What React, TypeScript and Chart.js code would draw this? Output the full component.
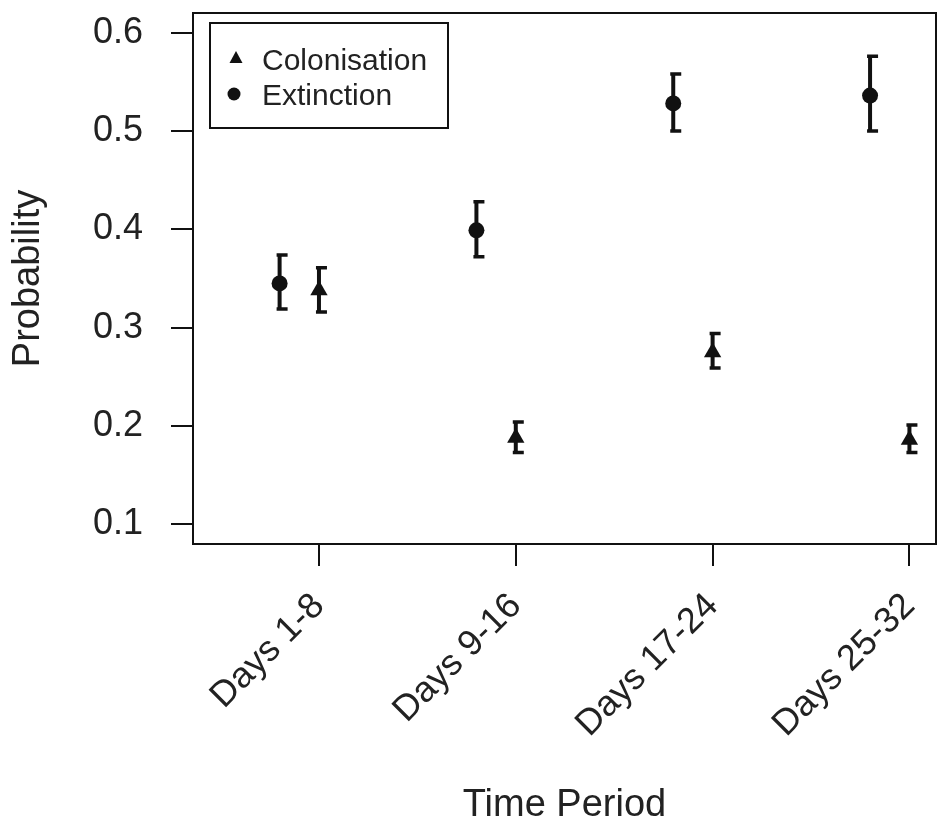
import React, { useEffect, useRef } from 'react';
import { Chart, registerables } from 'chart.js';

Chart.register(...registerables);

const categories = ['Days 1-8', 'Days 9-16', 'Days 17-24', 'Days 25-32'];
const colonisationMean = [0.338, 0.188, 0.275, 0.186];
const colonisationLower = [0.316, 0.173, 0.259, 0.173];
const colonisationUpper = [0.361, 0.204, 0.294, 0.201];
const extinctionMean = [0.345, 0.399, 0.528, 0.536];
const extinctionLower = [0.319, 0.372, 0.5, 0.5];
const extinctionUpper = [0.374, 0.428, 0.558, 0.576];
const yTicks = [0.1, 0.2, 0.3, 0.4, 0.5, 0.6];
const seriesNames = ['Colonisation', 'Extinction'];

const FONT = "'Liberation Sans', Arial, sans-serif";
const INK = '#111';

const errorBars = {
  id: 'errorBars',
  beforeDatasetsDraw(chart: any) {
    const { ctx } = chart;
    const y = chart.scales.y;
    chart.data.datasets.forEach((ds: any, di: number) => {
      const meta = chart.getDatasetMeta(di);
      meta.data.forEach((pt: any, i: number) => {
        const x = pt.x;
        const yl = y.getPixelForValue(ds.errLow[i]);
        const yh = y.getPixelForValue(ds.errHigh[i]);
        ctx.save();
        ctx.strokeStyle = INK;
        ctx.lineWidth = 4;
        ctx.beginPath();
        ctx.moveTo(x, yl);
        ctx.lineTo(x, yh);
        ctx.stroke();
        ctx.lineWidth = 3.5;
        ctx.beginPath();
        ctx.moveTo(x - 3, yl);
        ctx.lineTo(x + 8, yl);
        ctx.moveTo(x - 3, yh);
        ctx.lineTo(x + 8, yh);
        ctx.stroke();
        ctx.restore();
      });
    });
  },
};

const boxAndLegend = {
  id: 'boxAndLegend',
  afterDraw(chart: any) {
    const { ctx, chartArea: a } = chart;
    ctx.save();
    ctx.strokeStyle = INK;
    ctx.lineWidth = 2;
    ctx.strokeRect(a.left, a.top, a.right - a.left, a.bottom - a.top);

    // legend box
    const lx = a.left + 17;
    const ly = a.top + 10;
    ctx.strokeRect(lx, ly, 238, 105);
    ctx.fillStyle = INK;
    const tx = lx + 26;
    const ty = ly + 35;
    ctx.beginPath();
    ctx.moveTo(tx, ty - 7);
    ctx.lineTo(tx + 6.5, ty + 5);
    ctx.lineTo(tx - 6.5, ty + 5);
    ctx.closePath();
    ctx.fill();
    ctx.beginPath();
    ctx.arc(tx - 2, ly + 71, 6.5, 0, Math.PI * 2);
    ctx.fill();
    ctx.font = `30px ${FONT}`;
    ctx.textBaseline = 'alphabetic';
    ctx.textAlign = 'left';
    ctx.fillStyle = '#222';
    ctx.fillText(seriesNames[0], lx + 52, ly + 47);
    ctx.fillText(seriesNames[1], lx + 52, ly + 82);
    ctx.restore();
  },
};

const zeroPad = (s: any) => {
  s.paddingLeft = 0;
  s.paddingRight = 0;
  s.paddingTop = 0;
  s.paddingBottom = 0;
};

export default function App() {
  const ref = useRef<HTMLCanvasElement>(null);
  useEffect(() => {
    if (!ref.current) return;
    const extOffset = -0.2;
    const chart = new Chart(ref.current, {
      type: 'scatter',
      data: {
        datasets: [
          {
            label: seriesNames[0],
            data: categories.map((_, i) => ({ x: i + 1, y: colonisationMean[i] })),
            pointStyle: 'triangle',
            pointRadius: 10,
            backgroundColor: INK,
            borderColor: INK,
            borderWidth: 0,
            errLow: colonisationLower,
            errHigh: colonisationUpper,
          } as any,
          {
            label: seriesNames[1],
            data: categories.map((_, i) => ({ x: i + 1 + extOffset, y: extinctionMean[i] })),
            pointStyle: 'circle',
            pointRadius: 8,
            backgroundColor: INK,
            borderColor: INK,
            borderWidth: 0,
            errLow: extinctionLower,
            errHigh: extinctionUpper,
          } as any,
        ],
      },
      options: {
        animation: false,
        responsive: false,
        events: [],
        layout: { padding: { top: 13, right: 6, left: 0, bottom: 0 } },
        plugins: { legend: { display: false }, tooltip: { enabled: false } },
        scales: {
          x: {
            type: 'linear',
            min: 0.36,
            max: 4.135,
            afterBuildTicks: (ax: any) => {
              ax.ticks = categories.map((_, i) => ({ value: i + 1 }));
            },
            afterFit: (s: any) => {
              s.height = 284;
              zeroPad(s);
            },
            ticks: {
              autoSkip: false,
              minRotation: 45,
              maxRotation: 45,
              padding: 19,
              color: '#222',
              font: { family: FONT, size: 36 },
              callback: (_v: any, i: number) => categories[i],
            },
            grid: { drawOnChartArea: false, drawTicks: true, tickLength: 22, color: INK, lineWidth: 2 },
            border: { display: false },
            title: {
              display: true,
              text: 'Time Period',
              color: '#222',
              font: { family: FONT, size: 38 },
              padding: { top: 0, bottom: 0 },
            },
          },
          y: {
            type: 'linear',
            min: 0.08,
            max: 0.62,
            afterBuildTicks: (ax: any) => {
              ax.ticks = yTicks.map((v) => ({ value: v }));
            },
            afterFit: (s: any) => {
              s.width = 193;
              zeroPad(s);
            },
            ticks: {
              padding: 28,
              color: '#222',
              font: { family: FONT, size: 36 },
              callback: (v: any) => Number(v).toFixed(1),
            },
            grid: { drawOnChartArea: false, drawTicks: true, tickLength: 22, color: INK, lineWidth: 2 },
            border: { display: false },
            title: {
              display: true,
              text: 'Probability',
              color: '#222',
              font: { family: FONT, size: 38 },
              padding: { top: 6, bottom: 0 },
            },
          },
        },
      },
      plugins: [errorBars, boxAndLegend],
    });
    return () => chart.destroy();
  }, []);
  return (
    <div style={{ position: 'absolute', left: 0, top: 0, width: 946, height: 828, background: '#fff' }}>
      <canvas ref={ref} width={946} height={828} style={{ width: 946, height: 828, display: 'block' }} />
    </div>
  );
}
